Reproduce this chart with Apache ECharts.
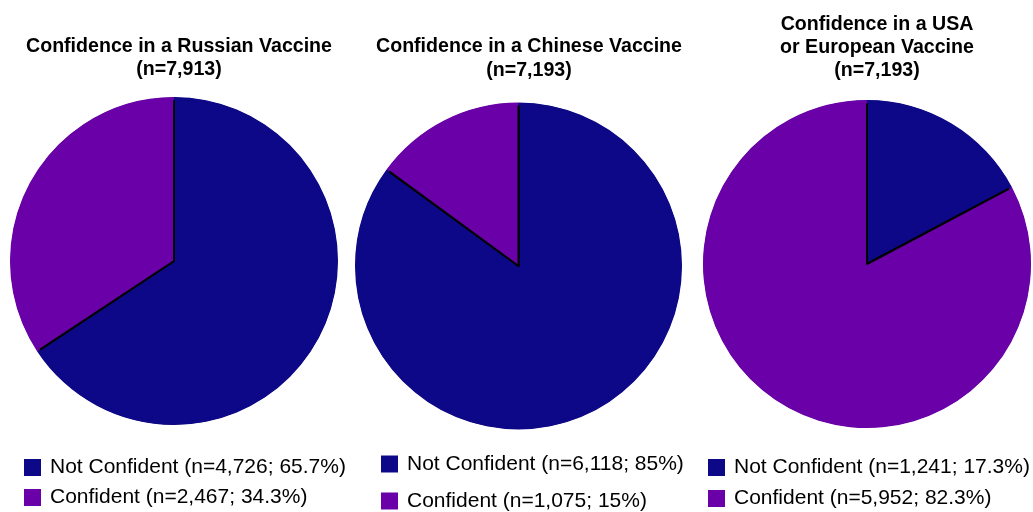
<!DOCTYPE html>
<html>
<head>
<meta charset="utf-8">
<script src="https://cdn.jsdelivr.net/npm/echarts@6/dist/echarts.min.js"></script>
<style>
html,body{margin:0;padding:0;background:#fff;}
#chart{width:1033px;height:512px;}
</style>
</head>
<body>
<div id="chart"></div>
<script>
// ---- data ----
const titles = [
  'Confidence in a Russian Vaccine\n(n=7,913)',
  'Confidence in a Chinese Vaccine\n(n=7,193)',
  'Confidence in a USA\nor European Vaccine\n(n=7,193)'
];
const categories = ['Not Confident', 'Confident'];
const russianValues = [4726, 2467];
const russianPct = ['65.7%', '34.3%'];
const chineseValues = [6118, 1075];
const chinesePct = ['85%', '15%'];
const westernValues = [1241, 5952];
const westernPct = ['17.3%', '82.3%'];

// ---- styling / layout ----
const colors = ['#0d0887', '#6a00a8'];
const fmt = n => n.toLocaleString('en-US');
function items(values, pcts) {
  return values.map((v, i) => ({
    name: categories[i] + ' (n=' + fmt(v) + '; ' + pcts[i] + ')',
    value: v,
    itemStyle: { color: colors[i] }
  }));
}
const pies = [
  { data: items(russianValues, russianPct), center: [174, 261], r: 162.5,
    title: { x: 179, y: 34.5, lh: 23.5 }, legend: { x: 24, y: 457, gap: 9 } },
  { data: items(chineseValues, chinesePct), center: [518.5, 266], r: 162,
    title: { x: 529, y: 35, lh: 23.5 }, legend: { x: 381, y: 453.5, gap: 16 } },
  { data: items(westernValues, westernPct), center: [867, 264], r: 162.5,
    title: { x: 877, y: 13.5, lh: 22.8 }, legend: { x: 708, y: 457, gap: 10 } }
];

const title = [], legend = [], series = [];
pies.forEach((p, k) => {
  title.push({
    text: titles[k], left: p.title.x, top: p.title.y, textAlign: 'center', padding: 0,
    textStyle: { fontFamily: 'Liberation Sans, Arial, sans-serif', fontWeight: 'bold',
      fontSize: 19.6, lineHeight: p.title.lh, color: '#000' }
  });
  legend.push({
    orient: 'vertical', left: p.legend.x, top: p.legend.y, padding: 0,
    height: 80,
    itemWidth: 17, itemHeight: 17, itemGap: p.legend.gap, icon: 'rect',
    selectedMode: false,
    itemStyle: { borderWidth: 0 },
    data: p.data.map(d => d.name),
    textStyle: { fontFamily: 'Liberation Sans, Arial, sans-serif', fontSize: 21,
      lineHeight: 17, color: '#000', padding: [0, 0, 0, 4] }
  });
  series.push({
    type: 'pie', center: p.center, radius: [0, p.r], startAngle: 90, clockwise: true,
    label: { show: false }, labelLine: { show: false }, silent: true, animation: false,
    itemStyle: { borderColor: '#000', borderWidth: 2 },
    emphasis: { disabled: true },
    data: p.data
  });
  // rim overlay to hide the outer arc of the border (only radial lines are black)
  series.push({
    type: 'pie', center: p.center, radius: [p.r - 1.8, p.r + 1.5], startAngle: 90, clockwise: true,
    label: { show: false }, labelLine: { show: false }, silent: true, animation: false,
    itemStyle: { borderWidth: 0 },
    emphasis: { disabled: true },
    data: p.data
  });
});

const chart = echarts.init(document.getElementById('chart'), null, { renderer: 'canvas' });
chart.setOption({
  backgroundColor: '#fff',
  animation: false,
  title, legend, series
});
</script>
</body>
</html>
